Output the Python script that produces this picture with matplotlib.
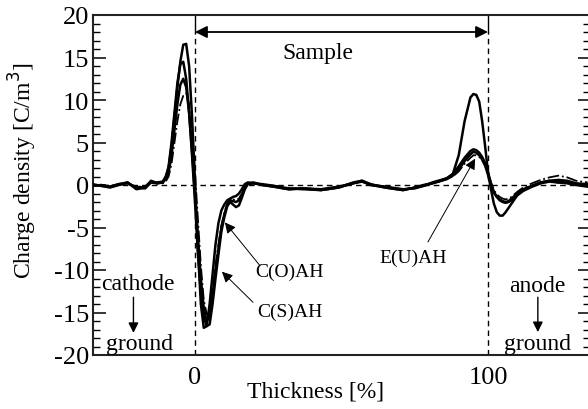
import matplotlib
matplotlib.use("Agg")
import matplotlib.pyplot as plt
from matplotlib.ticker import MultipleLocator

plt.rcParams["font.family"] = ["Liberation Serif", "DejaVu Serif"]
plt.rcParams["axes.unicode_minus"] = False

# thickness grid [%]
thickness = [-35, -32, -29, -26, -23, -20, -17, -15, -13, -11,
             -10, -9, -8, -7, -6, -5, -4, -3, -2, -1,
             0, 1, 2, 3, 4, 5, 6, 7, 8, 9,
             10, 11, 12, 13, 14, 15, 16, 17, 18, 20,
             23, 27, 32, 37, 43, 49, 54, 57, 60, 65,
             71, 75, 78, 81, 84, 86, 88, 90, 92, 94,
             95, 96, 97, 98, 99, 100, 101, 102, 103, 104,
             105, 106, 107, 108, 110, 112, 115, 118, 121, 124, 127, 130, 134]

# charge density [C/m3]
rho_s = [0.0, -0.1, -0.2, 0.1, 0.3, -0.4, -0.2, 0.4, 0.3, 0.4,
         1.0, 2.0, 4.5, 8.0, 11.5, 14.5, 16.5, 16.6, 14.0, 8.0,
         0.5, -7.5, -14.0, -16.8, -16.6, -14.0, -10.5, -7.0, -4.5, -3.0,
         -2.3, -1.8, -1.6, -1.4, -1.3, -1.0, -0.5, 0.1, 0.3, 0.2,
         0.0, -0.2, -0.5, -0.4, -0.6, -0.3, 0.2, 0.5, 0.1, -0.3,
         -0.6, -0.3, -0.1, 0.2, 0.5, 0.8, 1.3, 3.5, 7.5, 10.3,
         10.7, 10.6, 9.8, 7.5, 4.6, 1.5, -0.5, -2.2, -3.2, -3.6,
         -3.6, -3.2, -2.7, -2.2, -1.2, -0.6, -0.1, 0.3, 0.5, 0.3, 0.2, 0.0, -0.2]

rho_o = [0.1, -0.1, -0.3, 0.0, 0.3, -0.5, -0.3, 0.5, 0.2, 0.3,
         0.8, 2.2, 5.0, 8.5, 12.0, 14.2, 14.5, 12.5, 8.5, 3.5,
         -2.0, -8.0, -12.5, -15.5, -16.6, -16.4, -14.0, -11.0, -8.2, -5.5,
         -3.8, -2.5, -2.0, -2.3, -2.6, -2.4, -1.5, -0.5, 0.1, 0.2,
         0.1, -0.1, -0.4, -0.5, -0.6, -0.3, 0.3, 0.5, 0.0, -0.2,
         -0.5, -0.4, -0.1, 0.3, 0.6, 0.8, 1.3, 2.2, 3.2, 4.0,
         4.2, 4.1, 3.8, 3.3, 2.6, 1.5, 0.2, -0.8, -1.4, -1.8,
         -2.0, -2.1, -2.0, -1.8, -1.2, -0.7, -0.2, 0.2, 0.4, 0.3, 0.4, 0.1, 0.0]

rho_u = [-0.1, 0.0, -0.2, 0.1, 0.2, -0.3, -0.4, 0.3, 0.2, 0.3,
         0.7, 1.5, 3.5, 6.5, 9.5, 11.8, 12.5, 11.5, 8.5, 4.0,
         -1.0, -6.0, -11.0, -14.5, -16.0, -15.5, -13.0, -10.0, -7.5, -5.0,
         -3.5, -2.3, -1.8, -1.9, -2.0, -1.8, -1.2, -0.4, 0.2, 0.3,
         0.0, -0.2, -0.5, -0.4, -0.5, -0.2, 0.2, 0.4, 0.0, -0.3,
         -0.6, -0.3, 0.0, 0.2, 0.5, 0.7, 1.1, 1.8, 2.8, 3.6,
         3.9, 3.8, 3.5, 3.0, 2.3, 1.2, 0.0, -0.9, -1.4, -1.7,
         -1.9, -2.0, -1.9, -1.6, -1.0, -0.5, -0.1, 0.3, 0.5, 0.6, 0.5, 0.2, 0.1]

rho_ref = [0.0, 0.0, -0.1, 0.0, 0.2, -0.2, -0.2, 0.3, 0.2, 0.2,
           0.4, 1.0, 2.5, 5.0, 7.5, 9.5, 10.5, 10.8, 9.5, 6.0,
           1.5, -4.0, -9.5, -13.5, -15.2, -15.0, -12.5, -9.5, -7.0, -4.8,
           -3.3, -2.2, -1.7, -1.7, -1.8, -1.6, -1.0, -0.3, 0.1, 0.2,
           0.0, -0.1, -0.4, -0.4, -0.5, -0.2, 0.2, 0.4, 0.1, -0.2,
           -0.5, -0.3, 0.0, 0.2, 0.5, 0.7, 1.0, 1.6, 2.5, 3.2,
           3.5, 3.5, 3.3, 2.9, 2.3, 1.4, 0.3, -0.6, -1.1, -1.4,
           -1.6, -1.7, -1.6, -1.4, -0.8, -0.3, 0.2, 0.6, 0.9, 1.1, 0.9, 0.5, 0.3]

yticks = [-20, -15, -10, -5, 0, 5, 10, 15, 20]
xticks = [0, 100]

fig = plt.figure(figsize=(5.88, 4.10), dpi=100)
ax = fig.add_axes([93 / 588, 54 / 410, 497 / 588, 340 / 410])

dash = (0, (4, 3))
ax.axhline(0, color="black", lw=1.0, linestyle=dash, zorder=1)
for xv in xticks:
    ax.plot([xv, xv], [-20, 18], color="black", lw=1.0, linestyle=dash, zorder=1)
    ax.plot([xv, xv], [18, 20], color="black", lw=1.0, zorder=1)

ax.plot(thickness, rho_ref, color="black", lw=1.3, linestyle="-.", zorder=2)
for rho in (rho_u, rho_o, rho_s):
    ax.plot(thickness, rho, color="black", lw=1.8, zorder=3)

# sample span
ax.annotate("", xy=(0, 18), xytext=(100, 18),
            arrowprops=dict(arrowstyle="<|-|>", color="black", lw=1.3,
                            mutation_scale=18, shrinkA=0, shrinkB=0))
ax.text(41.8, 15.6, "Sample", fontsize=17, ha="center", va="center")

# electrodes
ax.text(-19.5, -11.6, "cathode", fontsize=17, ha="center", va="center")
ax.text(-19.0, -18.6, "ground", fontsize=17, ha="center", va="center")
ax.annotate("", xy=(-21, -17.4), xytext=(-21, -13.2),
            arrowprops=dict(arrowstyle="-|>", color="black", lw=1.0,
                            mutation_scale=15, shrinkA=0, shrinkB=0))
ax.text(116.7, -11.8, "anode", fontsize=17, ha="center", va="center")
ax.text(117.0, -18.6, "ground", fontsize=17, ha="center", va="center")
ax.annotate("", xy=(117, -17.3), xytext=(117, -13.2),
            arrowprops=dict(arrowstyle="-|>", color="black", lw=1.0,
                            mutation_scale=15, shrinkA=0, shrinkB=0))

# curve labels
label_props = dict(arrowstyle="-|>", color="black", lw=0.7,
                   mutation_scale=16, shrinkA=0, shrinkB=0)
ax.annotate("", xy=(10.2, -4.4), xytext=(22.2, -9.5), arrowprops=label_props)
ax.text(32.4, -10.2, "C(O)AH", fontsize=14, ha="center", va="center")
ax.annotate("", xy=(9.2, -10.2), xytext=(19.8, -13.8), arrowprops=label_props)
ax.text(32.4, -14.9, "C(S)AH", fontsize=14, ha="center", va="center")
ax.annotate("", xy=(95.6, 3.1), xytext=(79.5, -6.7), arrowprops=label_props)
ax.text(74.4, -8.5, "E(U)AH", fontsize=14, ha="center", va="center")

ax.set_xlim(-34.8, 134.8)
ax.set_ylim(-20, 20)
ax.set_xticks(xticks)
ax.set_xticklabels([str(v) for v in xticks])
ax.set_yticks(yticks)
ax.set_yticklabels([str(v) for v in yticks])
ax.yaxis.set_minor_locator(MultipleLocator(1))
ax.tick_params(axis="y", which="both", direction="in", left=True, right=True,
               labelsize=19, pad=3)
ax.tick_params(axis="y", which="major", length=9, width=1.1)
ax.tick_params(axis="y", which="minor", length=5, width=1.0)
ax.tick_params(axis="x", length=0, labelsize=19, pad=8)
for s in ax.spines.values():
    s.set_linewidth(1.5)
    s.set_color("#222222")

fig.text(316 / 588, 1 - 392 / 410, "Thickness [%]", fontsize=17,
         ha="center", va="center")
fig.text(23 / 588, 1 - 171 / 410, "Charge density [C/m$^3$]", fontsize=17,
         rotation=90, ha="center", va="center")

fig.savefig("out.png", dpi=100)
